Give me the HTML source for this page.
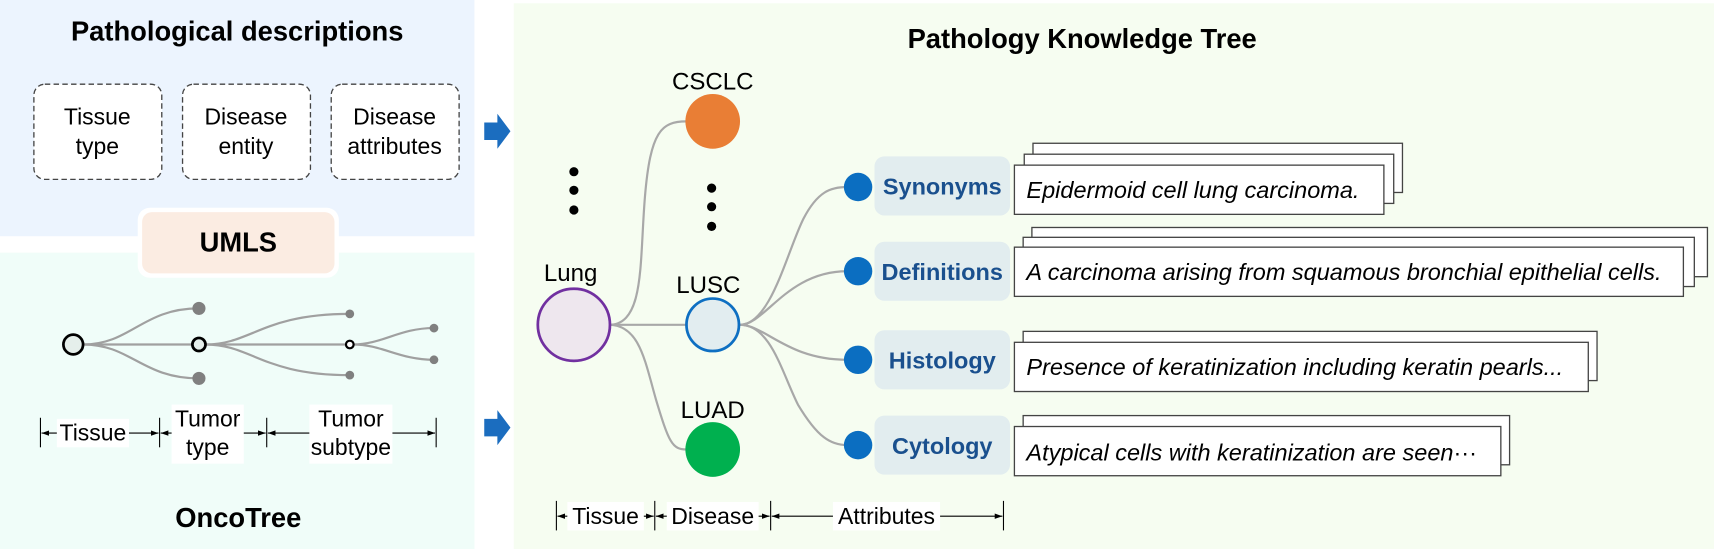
<!DOCTYPE html>
<html><head><meta charset="utf-8"><style>
html,body{margin:0;padding:0;background:#fff;}
svg{display:block;}
text{font-family:"Liberation Sans",Arial,sans-serif;}
</style></head><body>
<svg width="1714" height="549" viewBox="0 0 1568 502" preserveAspectRatio="none" xmlns="http://www.w3.org/2000/svg">
<defs>
<marker id="ar" viewBox="0 0 10 10" refX="10" refY="5" markerWidth="7" markerHeight="7" orient="auto-start-reverse"><path d="M0,1.5 L10,5 L0,8.5 z" fill="#000"/></marker>
</defs>
<rect x="0" y="0" width="434" height="216" fill="#ECF4FE"/>
<rect x="0" y="231" width="434" height="271" fill="#F0FDF9"/>
<rect x="470" y="3" width="1098" height="499" fill="#F6FDF1"/>

<text x="217" y="37" font-size="25" font-weight="bold" text-anchor="middle">Pathological descriptions</text>
<g fill="#fff" stroke="#444" stroke-width="1.2" stroke-dasharray="5,3">
<rect x="31" y="77" width="117" height="87" rx="10"/>
<rect x="167" y="77" width="117" height="87" rx="10"/>
<rect x="303" y="77" width="117" height="87" rx="10"/>
</g>
<g font-size="21" text-anchor="middle">
<text x="89" y="114">Tissue</text><text x="89" y="141">type</text>
<text x="225" y="114">Disease</text><text x="225" y="141">entity</text>
<text x="361" y="114">Disease</text><text x="361" y="141">attributes</text>
</g>
<rect x="126" y="190" width="184" height="64" rx="11" fill="#fff"/>
<rect x="130" y="194" width="176" height="56" rx="9" fill="#FBECE2"/>
<text x="218" y="230" font-size="25" font-weight="bold" text-anchor="middle">UMLS</text>

<g fill="none" stroke="#A0A0A0" stroke-width="2">
<path d="M76,315 C120,315 130,282 182,282"/>
<path d="M76,315 L176,315"/>
<path d="M76,315 C120,315 130,346 182,346"/>
<path d="M188,315 C230,315 240,287 320,287"/>
<path d="M188,315 L316,315"/>
<path d="M188,315 C230,315 240,343 320,343"/>
<path d="M323,315 C350,315 365,300 397,300"/>
<path d="M323,315 C350,315 365,329 397,329"/>
</g>
<circle cx="67" cy="315" r="9" fill="#E5EFEB" stroke="#000" stroke-width="2.5"/>
<circle cx="182" cy="315" r="6" fill="#E5EFEB" stroke="#000" stroke-width="2.5"/>
<circle cx="320" cy="315" r="3.5" fill="#fff" stroke="#000" stroke-width="2"/>
<g fill="#808080">
<circle cx="182" cy="282" r="6"/><circle cx="182" cy="346" r="6"/>
<circle cx="320" cy="287" r="4"/><circle cx="320" cy="343" r="4"/>
<circle cx="397" cy="300" r="4"/><circle cx="397" cy="329" r="4"/>
</g>
<g stroke="#000" stroke-width="1">
<line x1="37" y1="382" x2="37" y2="409"/><line x1="146" y1="382" x2="146" y2="409"/>
<line x1="244" y1="382" x2="244" y2="409"/><line x1="399" y1="382" x2="399" y2="409"/>
<line x1="38" y1="396" x2="145" y2="396" marker-start="url(#ar)" marker-end="url(#ar)"/>
<line x1="147" y1="396" x2="243" y2="396" marker-start="url(#ar)" marker-end="url(#ar)"/>
<line x1="245" y1="396" x2="398" y2="396" marker-start="url(#ar)" marker-end="url(#ar)"/>
</g>
<rect x="52" y="383" width="66" height="26" fill="#fff"/>
<rect x="157" y="370" width="66" height="54" fill="#fff"/>
<rect x="283" y="370" width="76" height="54" fill="#fff"/>
<g font-size="21" text-anchor="middle">
<text x="85" y="403">Tissue</text>
<text x="190" y="390">Tumor</text><text x="190" y="416">type</text>
<text x="321" y="390">Tumor</text><text x="321" y="416">subtype</text>
</g>
<text x="218" y="482" font-size="25" font-weight="bold" text-anchor="middle">OncoTree</text>

<path d="M443,112 H455 V104 L467,120 L455,136 V128 H443 z" fill="#1B6DBF"/>
<path d="M443,383 H455 V375 L467,391 L455,407 V399 H443 z" fill="#1B6DBF"/>

<text x="990" y="44" font-size="25" font-weight="bold" text-anchor="middle">Pathology Knowledge Tree</text>
<g fill="none" stroke="#A8A8A8" stroke-width="2">
<path d="M557,297 C590,297 585,240 590,180 C595,120 605,111 628,111"/>
<path d="M557,297 L628,297"/>
<path d="M557,297 C585,297 590,330 600,365 C612,405 615,411 628,411"/>
<path d="M677,297 C705,297 720,230 735,200 C748,175 760,171 775,171"/>
<path d="M677,297 C700,297 720,248 775,248"/>
<path d="M677,297 C700,297 720,329 775,329"/>
<path d="M677,297 C705,297 715,340 730,370 C748,400 760,407 775,407"/>
</g>
<circle cx="525" cy="297" r="33" fill="#EEE7EE" stroke="#7130A0" stroke-width="2.5"/>
<circle cx="652" cy="111" r="25" fill="#E97E35"/>
<circle cx="652" cy="297" r="24" fill="#E2EDF0" stroke="#0E6FC2" stroke-width="2.5"/>
<circle cx="652" cy="411" r="25" fill="#00B04F"/>
<g font-size="22" text-anchor="middle">
<text x="522" y="257">Lung</text>
<text x="652" y="82">CSCLC</text>
<text x="648" y="268">LUSC</text>
<text x="652" y="382">LUAD</text>
</g>
<g fill="#000">
<circle cx="525" cy="157" r="4.2"/><circle cx="525" cy="174" r="4.2"/><circle cx="525" cy="192" r="4.2"/>
<circle cx="651" cy="172" r="4.2"/><circle cx="651" cy="189" r="4.2"/><circle cx="651" cy="207" r="4.2"/>
</g>
<g fill="#0B6EC1">
<circle cx="785" cy="171" r="13"/><circle cx="785" cy="248" r="13"/>
<circle cx="785" cy="329" r="13"/><circle cx="785" cy="407" r="13"/>
</g>
<g fill="#E2EDEF">
<rect x="800" y="143" width="124" height="54" rx="9"/>
<rect x="800" y="221" width="124" height="54" rx="9"/>
<rect x="800" y="302" width="124" height="54" rx="9"/>
<rect x="800" y="380" width="124" height="54" rx="9"/>
</g>
<g font-size="21.5" font-weight="bold" fill="#1A508E" text-anchor="middle">
<text x="862" y="178">Synonyms</text>
<text x="862" y="256">Definitions</text>
<text x="862" y="337">Histology</text>
<text x="862" y="415">Cytology</text>
</g>
<g fill="#fff" stroke="#444" stroke-width="1.2">
<rect x="945" y="131" width="338" height="45"/>
<rect x="937" y="141" width="338" height="45"/>
<rect x="928" y="151" width="338" height="45"/>
<rect x="944" y="208" width="618" height="45"/>
<rect x="936" y="217" width="614" height="45"/>
<rect x="928" y="226" width="612" height="45"/>
<rect x="936" y="303" width="525" height="45"/>
<rect x="928" y="313" width="525" height="45"/>
<rect x="936" y="380" width="445" height="45"/>
<rect x="928" y="390" width="445" height="45"/>
</g>
<g font-size="21.5" font-style="italic">
<text x="939" y="181">Epidermoid cell lung carcinoma.</text>
<text x="939" y="256">A carcinoma arising from squamous bronchial epithelial cells.</text>
<text x="939" y="343">Presence of keratinization including keratin pearls...</text>
<text x="939" y="421">Atypical cells with keratinization are seen<tspan font-style="normal">···</tspan></text>
</g>

<g stroke="#000" stroke-width="1">
<line x1="509" y1="458" x2="509" y2="485"/><line x1="599" y1="458" x2="599" y2="485"/>
<line x1="705" y1="458" x2="705" y2="485"/><line x1="918" y1="458" x2="918" y2="485"/>
<line x1="510" y1="472" x2="598" y2="472" marker-start="url(#ar)" marker-end="url(#ar)"/>
<line x1="600" y1="472" x2="704" y2="472" marker-start="url(#ar)" marker-end="url(#ar)"/>
<line x1="706" y1="472" x2="917" y2="472" marker-start="url(#ar)" marker-end="url(#ar)"/>
</g>
<rect x="519" y="459" width="70" height="26" fill="#fff"/>
<rect x="610" y="459" width="84" height="26" fill="#fff"/>
<rect x="762" y="459" width="98" height="26" fill="#fff"/>
<g font-size="21" text-anchor="middle">
<text x="554" y="479">Tissue</text>
<text x="652" y="479">Disease</text>
<text x="811" y="479">Attributes</text>
</g>
</svg>
</body></html>
